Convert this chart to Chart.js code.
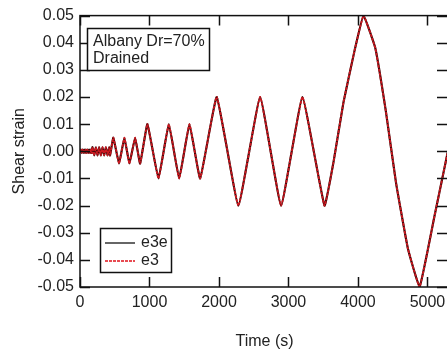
<!DOCTYPE html>
<html>
<head>
<meta charset="utf-8">
<script src="https://cdn.jsdelivr.net/npm/chart.js@4/dist/chart.umd.min.js"></script>
<style>
  html, body { margin: 0; padding: 0; background: #fff; overflow: hidden; }
  #wrap { width: 452px; height: 356px; }
</style>
</head>
<body>
<div id="wrap"><canvas id="strain-chart" width="452" height="356"></canvas></div>
<script>
// values (time in s, strain)
const time = [0, 12, 24, 36, 48, 60, 72, 84, 96, 108, 120, 132, 144, 156, 168,
  180, 204, 228, 252, 276, 300, 324, 348, 372, 396, 420, 432,
  480, 562, 639, 711, 793, 865,
  970, 1129, 1278, 1427, 1575, 1729,
  1968, 2279, 2592, 2894, 3201, 3518,
  3648, 3791, 3950, 4080, 4250, 4400, 4550, 4720, 4886, 5100, 5310]

const e3e = [0, 0.0006, -0.0006, 0.0006, -0.0006, 0.0006, -0.0006, 0.0006, -0.0006, 0.0006, -0.0006, 0.0006, -0.0006, 0.0006, -0.0006,
  0.0015, -0.0015, 0.0015, -0.0015, 0.0015, -0.0015, 0.0015, -0.0015, 0.0015, -0.0015, 0.0015, -0.0015,
  0.005, -0.0045, 0.005, -0.0045, 0.005, -0.0045,
  0.01, -0.01, 0.01, -0.01, 0.01, -0.01,
  0.02, -0.02, 0.02, -0.02, 0.02, -0.02,
  -0.004, 0.018, 0.037, 0.05, 0.038, 0.015, -0.012, -0.036, -0.05, -0.024, 0.002]

const e3 = [0, 0.0006, -0.0006, 0.0006, -0.0006, 0.0006, -0.0006, 0.0006, -0.0006, 0.0006, -0.0006, 0.0006, -0.0006, 0.0006, -0.0006,
  0.0015, -0.0015, 0.0015, -0.0015, 0.0015, -0.0015, 0.0015, -0.0015, 0.0015, -0.0015, 0.0015, -0.0015,
  0.005, -0.0045, 0.005, -0.0045, 0.005, -0.0045,
  0.01, -0.01, 0.01, -0.01, 0.01, -0.01,
  0.02, -0.02, 0.02, -0.02, 0.02, -0.02,
  -0.004, 0.018, 0.037, 0.05, 0.038, 0.015, -0.012, -0.036, -0.05, -0.024, 0.002]

const xTicks = [0, 1000, 2000, 3000, 4000, 5000]
const yTicks = [-0.05, -0.04, -0.03, -0.02, -0.01, 0, 0.01, 0.02, 0.03, 0.04, 0.05]
const noteLines = ['Albany Dr=70%', 'Drained']

const FONT = '"Liberation Sans", Arial, sans-serif'
const TEXT = '#222'

//frame, inward ticks, text box and legend box
const framePlugin = {
  id: 'frame',
  afterDatasetsDraw(chart) {
    const {ctx, chartArea: a, scales: {x, y}} = chart
    const tl = 10
    ctx.save()
    ctx.strokeStyle = '#111'
    ctx.lineWidth = 1.5
    ctx.strokeRect(a.left, a.top, a.right - a.left, a.bottom - a.top)

    ctx.beginPath()
    xTicks.forEach(v => {
      const px = Math.round(x.getPixelForValue(v)) + 0.5
      ctx.moveTo(px, a.bottom); ctx.lineTo(px, a.bottom - tl)
      ctx.moveTo(px, a.top); ctx.lineTo(px, a.top + tl)
    })
    yTicks.forEach(v => {
      const py = Math.round(y.getPixelForValue(v)) + 0.5
      ctx.moveTo(a.left, py); ctx.lineTo(a.left + tl, py)
      ctx.moveTo(a.right - 2, py); ctx.lineTo(a.right - 2 - tl, py)
    })
    ctx.stroke()

    // annotation box
    ctx.fillStyle = '#fff'
    ctx.fillRect(87.5, 28.5, 122, 42)
    ctx.strokeRect(87.5, 28.5, 122, 42)
    ctx.fillStyle = TEXT
    ctx.font = '16px ' + FONT
    ctx.textBaseline = 'middle'
    ctx.textAlign = 'left'
    noteLines.forEach((t, i) => ctx.fillText(t, 93, 42 + i * 17))

    // legend box
    ctx.fillStyle = '#fff'
    ctx.fillRect(100.5, 228.5, 71, 44)
    ctx.strokeRect(100.5, 228.5, 71, 44)
    chart.data.datasets.forEach((ds, i) => {
      const ly = 243 + i * 18
      ctx.beginPath()
      ctx.strokeStyle = ds.legendColor
      ctx.lineWidth = 1.5
      ctx.setLineDash(ds.borderDash || [])
      ctx.moveTo(105, ly); ctx.lineTo(135, ly)
      ctx.stroke()
      ctx.setLineDash([])
      ctx.fillStyle = TEXT
      ctx.fillText(ds.label, 141, ly)
    })
    ctx.restore()
  }
}

const canvas = document.querySelector('#strain-chart')
new Chart(canvas.getContext('2d'), {
  type: 'line',
  data: {
    datasets: [
      {
        label: 'e3e',
        data: time.map((t, i) => ({x: t, y: e3e[i]})),
        borderColor: '#3a0a0a',
        legendColor: '#333',
        borderWidth: 2.2,
        pointRadius: 0,
        tension: 0.1,
        order: 1
      },
      {
        label: 'e3',
        data: time.map((t, i) => ({x: t, y: e3[i]})),
        borderColor: '#cc1820',
        legendColor: '#e0101a',
        borderWidth: 1.8,
        borderDash: [3, 1],
        pointRadius: 0,
        tension: 0.1,
        order: 0
      }
    ]
  },
  options: {
    responsive: false,
    animation: false,
    layout: {padding: {top: 13, right: 3, left: 0, bottom: 0}},
    plugins: {legend: {display: false}, tooltip: {enabled: false}},
    scales: {
      x: {
        type: 'linear',
        min: 0,
        max: 5310,
        grid: {display: false, drawTicks: false},
        border: {display: false},
        afterFit: s => { s.height = 69 },
        afterBuildTicks: s => { s.ticks = xTicks.map(v => ({value: v})) },
        ticks: {padding: 6, color: TEXT, font: {family: FONT, size: 16}, maxRotation: 0, callback: v => String(v)},
        title: {display: true, text: 'Time (s)', color: TEXT, font: {family: FONT, size: 16}, padding: {top: 0, bottom: 5}}
      },
      y: {
        min: -0.05,
        max: 0.05,
        grid: {display: false, drawTicks: false},
        border: {display: false},
        afterFit: s => { s.width = 80 },
        afterBuildTicks: s => { s.ticks = yTicks.map(v => ({value: v})) },
        ticks: {
          padding: 6, color: TEXT, font: {family: FONT, size: 16},
          callback: v => Math.abs(v) < 1e-9 ? '0.00' : v.toFixed(2)
        },
        title: {display: true, text: 'Shear strain', color: TEXT, font: {family: FONT, size: 16}, padding: {top: 10, bottom: 0}}
      }
    }
  },
  plugins: [framePlugin]
})
</script>
</body>
</html>
